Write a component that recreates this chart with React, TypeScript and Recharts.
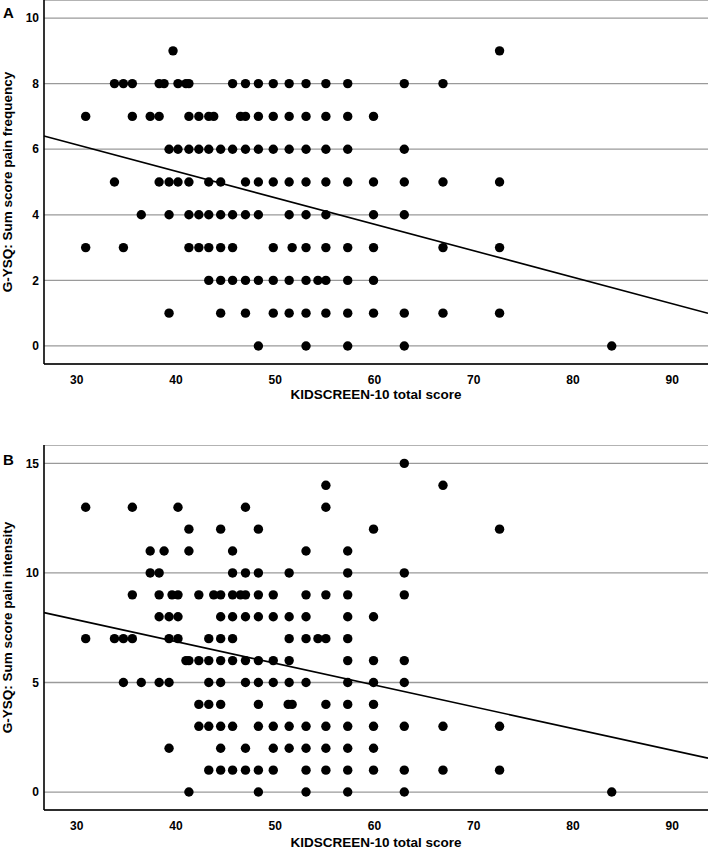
import {
  ScatterChart,
  Scatter,
  XAxis,
  YAxis,
  CartesianGrid,
  ReferenceLine,
} from 'recharts';

const FONT = '"Liberation Sans", Arial, Helvetica, sans-serif';

const kidscreenDomain: [number, number] = [26.7, 93.6];
const kidscreenTicks = [30, 40, 50, 60, 70, 80, 90];

const frequencyDomain: [number, number] = [-0.55, 10.55];
const frequencyTicks = [0, 2, 4, 6, 8, 10];

const intensityDomain: [number, number] = [-0.82, 15.84];
const intensityTicks = [0, 5, 10, 15];

// KIDSCREEN-10 total scores, one list per pain frequency sum score
const frequencyRows: [number, number[]][] = [
  [9, [39.7, 72.6]],
  [8, [33.8, 34.7, 35.6, 38.3, 38.8, 40.2, 41.0, 41.3, 45.7, 47.0, 48.3, 49.8, 51.4, 53.1, 55.1, 57.3, 63.0, 66.9]],
  [7, [30.9, 35.6, 37.4, 38.3, 41.3, 42.3, 43.3, 43.8, 46.5, 47.0, 48.3, 49.8, 51.4, 53.1, 55.1, 57.3, 59.9]],
  [6, [39.3, 40.2, 41.3, 42.3, 43.3, 44.5, 45.7, 47.0, 48.3, 49.8, 51.4, 53.1, 55.1, 57.3, 63.0]],
  [5, [33.8, 38.3, 39.3, 40.2, 41.3, 43.3, 44.5, 47.0, 48.3, 49.8, 51.4, 53.1, 55.1, 57.3, 59.9, 63.0, 66.9, 72.6]],
  [4, [36.5, 39.3, 41.3, 42.3, 43.3, 44.5, 45.7, 47.0, 48.3, 51.4, 53.1, 55.1, 59.9, 63.0]],
  [3, [30.9, 34.7, 41.3, 42.3, 43.3, 44.5, 45.7, 49.8, 51.7, 53.1, 55.1, 57.3, 59.9, 66.9, 72.6]],
  [2, [43.3, 44.5, 45.7, 47.0, 48.3, 49.8, 51.4, 53.1, 54.3, 55.1, 57.3, 59.9]],
  [1, [39.3, 44.5, 47.0, 49.8, 51.4, 53.1, 55.1, 57.3, 59.9, 63.0, 66.9, 72.6]],
  [0, [48.3, 53.1, 57.3, 63.0, 83.9]],
];

// KIDSCREEN-10 total scores, one list per pain intensity sum score
const intensityRows: [number, number[]][] = [
  [15, [63.0]],
  [14, [55.1, 66.9]],
  [13, [30.9, 35.6, 40.2, 47.0, 55.1]],
  [12, [41.3, 44.5, 48.3, 59.9, 72.6]],
  [11, [37.4, 38.8, 41.3, 45.7, 53.1, 57.3]],
  [10, [37.4, 38.3, 45.7, 47.0, 48.3, 51.4, 57.3, 63.0]],
  [9, [35.6, 38.3, 39.6, 40.2, 42.3, 43.8, 44.5, 45.7, 46.5, 47.0, 48.3, 49.8, 53.1, 55.1, 57.3, 63.0]],
  [8, [38.3, 39.3, 40.2, 44.5, 45.7, 47.0, 48.3, 49.8, 51.4, 53.1, 57.3, 59.9]],
  [7, [30.9, 33.8, 34.7, 35.6, 39.3, 40.2, 43.3, 44.5, 45.7, 51.4, 53.1, 54.3, 55.1, 57.3]],
  [6, [41.0, 41.3, 42.3, 43.3, 44.5, 45.7, 47.0, 48.3, 49.8, 51.4, 57.3, 59.9, 63.0]],
  [5, [34.7, 36.5, 38.3, 39.3, 43.3, 44.5, 47.0, 48.3, 49.8, 51.4, 53.1, 57.3, 59.9, 63.0]],
  [4, [42.3, 43.3, 44.5, 48.3, 51.3, 51.7, 55.1, 57.3, 59.9]],
  [3, [42.3, 43.3, 44.5, 45.7, 48.3, 49.8, 51.4, 53.1, 55.1, 57.3, 59.9, 63.0, 66.9, 72.6]],
  [2, [39.3, 44.5, 47.0, 49.8, 51.4, 53.1, 55.1, 57.3, 59.9]],
  [1, [43.3, 44.5, 45.7, 47.0, 48.3, 49.8, 53.1, 55.1, 57.3, 59.9, 63.0, 66.9, 72.6]],
  [0, [41.3, 48.3, 53.1, 57.3, 63.0, 83.9]],
];

// linear fit lines (y = intercept + slope * x)
const frequencyFit = { intercept: 8.56, slope: -0.0808 };
const intensityFit = { intercept: 10.84, slope: -0.0993 };

const toPoints = (rows: [number, number[]][]) =>
  rows.flatMap(([y, xs]) => xs.map((x) => ({ x, y })));

const Dot = (props: any) => <circle cx={props.cx} cy={props.cy} r={4.7} fill="#000" />;

const YTitle = ({ viewBox, text }: any) => {
  const cx = 12;
  const cy = viewBox.y + viewBox.height / 2;
  return (
    <text
      x={cx}
      y={cy}
      transform={`rotate(-90 ${cx} ${cy})`}
      textAnchor="middle"
      fontFamily={FONT}
      fontSize={13.5}
      fontWeight="bold"
      fill="#000"
    >
      {text}
    </text>
  );
};

interface PanelProps {
  rows: [number, number[]][];
  yDomain: [number, number];
  yTicks: number[];
  yTitle: string;
  fit: { intercept: number; slope: number };
  height: number;
  xAxisHeight: number;
  titleOffset: number;
}

function PainPanel({ rows, yDomain, yTicks, yTitle, fit, height, xAxisHeight, titleOffset }: PanelProps) {
  const points = toPoints(rows);
  const [x0, x1] = kidscreenDomain;
  const tickStyle = { fill: '#000', fontSize: 12, fontWeight: 'bold', fontFamily: FONT };

  return (
    <ScatterChart width={708} height={height} margin={{ top: 0, right: 0, bottom: 0, left: 0 }}>
      <CartesianGrid vertical={false} stroke="#9a9a9a" strokeWidth={1.3} />
      <XAxis
        type="number"
        dataKey="x"
        domain={kidscreenDomain}
        ticks={kidscreenTicks}
        allowDataOverflow
        height={xAxisHeight}
        tickLine={false}
        tickSize={6}
        tickMargin={5}
        tick={tickStyle}
        axisLine={{ stroke: '#000', strokeWidth: 1.6 }}
        label={{
          value: 'KIDSCREEN-10 total score',
          position: 'insideBottom',
          offset: titleOffset,
          fill: '#000',
          fontSize: 13.5,
          fontWeight: 'bold',
          fontFamily: FONT,
        }}
      />
      <YAxis
        type="number"
        dataKey="y"
        domain={yDomain}
        ticks={yTicks}
        allowDataOverflow
        width={44}
        tickLine={false}
        tickSize={3}
        tickMargin={2}
        tick={tickStyle}
        axisLine={{ stroke: '#000', strokeWidth: 1.6 }}
        label={<YTitle text={yTitle} />}
      />
      <Scatter data={points} shape={Dot} isAnimationActive={false} />
      <ReferenceLine
        segment={[
          { x: x0, y: fit.intercept + fit.slope * x0 },
          { x: x1, y: fit.intercept + fit.slope * x1 },
        ]}
        stroke="#000"
        strokeWidth={1.6}
        ifOverflow="visible"
      />
    </ScatterChart>
  );
}

const letterStyle = {
  position: 'absolute' as const,
  left: 3,
  fontFamily: FONT,
  fontSize: 15,
  lineHeight: '15px',
  fontWeight: 'bold' as const,
  color: '#000',
};

export default function App() {
  return (
    <div style={{ position: 'absolute', left: 0, top: 0, width: 708, height: 856, background: '#fff' }}>
      <div style={{ position: 'absolute', left: 0, top: 0 }}>
        <PainPanel
          rows={frequencyRows}
          yDomain={frequencyDomain}
          yTicks={frequencyTicks}
          yTitle="G-YSQ: Sum score pain frequency"
          fit={frequencyFit}
          height={404}
          xAxisHeight={40}
          titleOffset={5}
        />
      </div>
      <div style={{ position: 'absolute', left: 0, top: 445 }}>
        <PainPanel
          rows={intensityRows}
          yDomain={intensityDomain}
          yTicks={intensityTicks}
          yTitle="G-YSQ: Sum score pain intensity"
          fit={intensityFit}
          height={411}
          xAxisHeight={46}
          titleOffset={9}
        />
      </div>
      <div style={{ ...letterStyle, top: 5 }}>A</div>
      <div style={{ ...letterStyle, top: 452 }}>B</div>
    </div>
  );
}
